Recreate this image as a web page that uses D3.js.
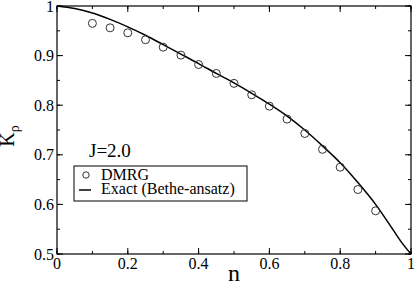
<!DOCTYPE html>
<html>
<head>
<meta charset="utf-8">
<script src="https://cdn.jsdelivr.net/npm/d3@7"></script>
<style>
  body { margin: 0; background: #fff; }
</style>
</head>
<body>
<script>
// DMRG points
var dmrgN = [0.1, 0.15, 0.2, 0.25, 0.3, 0.35, 0.4, 0.45, 0.5, 0.55, 0.6, 0.65, 0.7, 0.75, 0.8, 0.85, 0.9];
var dmrgK = [0.965, 0.956, 0.946, 0.932, 0.917, 0.901, 0.882, 0.864, 0.844, 0.821, 0.798, 0.772, 0.743, 0.711, 0.675, 0.630, 0.587];

// exact Bethe-ansatz curve
var exactN = [0, 0.05, 0.1, 0.15, 0.2, 0.25, 0.3, 0.35, 0.4, 0.45, 0.5, 0.55, 0.6, 0.65, 0.7, 0.75, 0.8, 0.85, 0.9, 0.95, 0.975, 1.0];
var exactK = [1.0, 0.995, 0.986, 0.973, 0.958, 0.941, 0.922, 0.903, 0.884, 0.864, 0.845, 0.824, 0.802, 0.778, 0.750, 0.718, 0.684, 0.644, 0.600, 0.548, 0.522, 0.5];

var xTicks = [0, 0.2, 0.4, 0.6, 0.8, 1];
var yTicks = [0.5, 0.6, 0.7, 0.8, 0.9, 1];

var fontName = "'Liberation Serif', monospace";

var margin = {top: 6, right: 4, bottom: 31, left: 57},
    width = 415 - margin.left - margin.right,
    height = 285 - margin.top - margin.bottom;

var root = d3.select("body")
  .append("svg")
    .attr("width", 415)
    .attr("height", 285);
var svg = root.append("g")
    .attr("transform", "translate(" + margin.left + "," + margin.top + ")");

var x = d3.scaleLinear().domain([0, 1]).range([0, width]);
var y = d3.scaleLinear().domain([0.5, 1]).range([height, 0]);

// minor + major ticks, pointing inward on all four sides
var xMinor = d3.range(0, 1.0001, 0.1);
var yMinor = d3.range(0.5, 1.0001, 0.05);

function tickLines(g, scale, vals, len, side) {
  g.selectAll(null).data(vals).enter().append("line")
    .attr("stroke", "#000")
    .attr("stroke-width", 1)
    .attr("x1", function(d) { return side == "b" || side == "t" ? scale(d) : (side == "l" ? 0 : width); })
    .attr("x2", function(d) { return side == "b" || side == "t" ? scale(d) : (side == "l" ? len : width - len); })
    .attr("y1", function(d) { return side == "l" || side == "r" ? scale(d) : (side == "b" ? height : 0); })
    .attr("y2", function(d) { return side == "l" || side == "r" ? scale(d) : (side == "b" ? height - len : len); });
}

var ticks = svg.append("g");
tickLines(ticks, x, xMinor, 3, "b");
tickLines(ticks, x, xTicks, 6, "b");
tickLines(ticks, x, xMinor, 3, "t");
tickLines(ticks, x, xTicks, 6, "t");
tickLines(ticks, y, yMinor, 3, "l");
tickLines(ticks, y, yTicks, 6, "l");
tickLines(ticks, y, yMinor, 3, "r");
tickLines(ticks, y, yTicks, 6, "r");

svg.append("rect")
  .attr("width", width)
  .attr("height", height)
  .attr("fill", "none")
  .attr("stroke", "#000")
  .attr("stroke-width", 1.2);

// tick labels
svg.append("g").selectAll("text").data(xTicks).enter().append("text")
  .attr("x", function(d) { return x(d); })
  .attr("y", height + 15)
  .attr("text-anchor", "middle")
  .style("font-family", fontName)
  .style("font-size", "16px")
  .text(function(d) { return d3.format("~g")(d); });

svg.append("g").selectAll("text").data(yTicks).enter().append("text")
  .attr("x", -3)
  .attr("y", function(d) { return y(d) + 5.5; })
  .attr("text-anchor", "end")
  .style("font-family", fontName)
  .style("font-size", "16px")
  .text(function(d) { return d3.format("~g")(d); });

// axis titles
svg.append("text")
  .attr("x", width / 2)
  .attr("y", height + 27)
  .attr("text-anchor", "middle")
  .style("font-family", fontName)
  .style("font-size", "24px")
  .text("n");

var yl = svg.append("text")
  .attr("transform", "translate(" + (-43) + "," + (height / 2 + 6) + ") rotate(-90)")
  .attr("text-anchor", "middle")
  .style("font-family", fontName)
  .style("font-size", "20px");
yl.append("tspan").text("K");
yl.append("tspan").attr("dy", 5).style("font-size", "14px").text("ρ");

// exact curve
var line = d3.line()
  .x(function(d, i) { return x(exactN[i]); })
  .y(function(d, i) { return y(exactK[i]); })
  .curve(d3.curveMonotoneX);

svg.append("path")
  .datum(exactK)
  .attr("fill", "none")
  .attr("stroke", "#000")
  .attr("stroke-width", 1.5)
  .attr("d", line);

// DMRG circles
svg.append("g").selectAll("circle").data(dmrgK).enter().append("circle")
  .attr("cx", function(d, i) { return x(dmrgN[i]); })
  .attr("cy", function(d) { return y(d); })
  .attr("r", 4)
  .attr("fill", "none")
  .attr("stroke", "#333")
  .attr("stroke-width", 1);

// J label
svg.append("text")
  .attr("x", 32)
  .attr("y", 151)
  .style("font-family", fontName)
  .style("font-size", "19px")
  .text("J=2.0");

// legend
var leg = svg.append("g").attr("transform", "translate(17,160)");
leg.append("rect")
  .attr("width", 173)
  .attr("height", 35)
  .attr("fill", "#fff")
  .attr("stroke", "#000")
  .attr("stroke-width", 1);
leg.append("circle")
  .attr("cx", 12).attr("cy", 9).attr("r", 3.2)
  .attr("fill", "none").attr("stroke", "#333");
leg.append("line")
  .attr("x1", 5).attr("x2", 17).attr("y1", 24).attr("y2", 24)
  .attr("stroke", "#000").attr("stroke-width", 1.5);
leg.append("text")
  .attr("x", 27).attr("y", 13.5)
  .style("font-family", fontName)
  .style("font-size", "16px")
  .text("DMRG");
leg.append("text")
  .attr("x", 27).attr("y", 28)
  .style("font-family", fontName)
  .style("font-size", "16px")
  .text("Exact (Bethe-ansatz)");
</script>
</body>
</html>
